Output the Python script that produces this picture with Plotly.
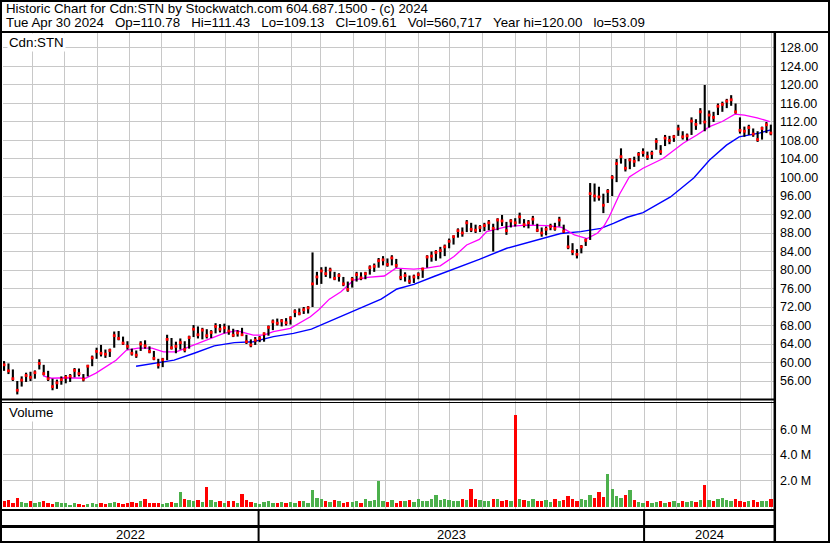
import pandas as pd
import plotly.graph_objects as go

W, H = 830, 543

# ---------------- header data ----------------
ticker = "Cdn:STN"
last_day = "Tue Apr 30 2024"
last_open, last_high, last_low, last_close = 110.78, 111.43, 109.13, 109.61
last_volume = 560717
year_high, year_low = 120.00, 53.09

# ---------------- price bars (every ~3 trading days) ----------------
bar_low = [
    58.2, 57.5, 56.0, 53.1, 54.8, 55.8, 56.0, 56.5,
    58.5, 57.2, 56.0, 54.0, 54.3, 55.2, 55.5,
    55.8, 56.8, 57.0, 55.9, 57.0, 59.2, 60.8,
    61.3, 61.0, 61.2, 63.2, 64.8, 63.8, 62.8,
    61.5, 61.0, 62.5, 63.0, 62.0, 60.5, 58.7,
    59.0, 60.5, 62.8, 62.0, 62.8, 62.2, 63.0,
    65.5, 65.2, 65.0, 65.2, 65.3, 66.3, 66.5,
    66.3, 66.0, 65.5, 65.6, 65.8, 64.0, 63.3,
    63.8, 64.4, 64.5, 65.8, 67.0, 68.0, 67.8, 68.0,
    68.2, 69.8, 70.2, 70.5, 70.6, 72.0, 76.8,
    77.0, 78.5, 78.2, 77.8, 77.5, 76.5, 75.3,
    76.2, 77.5, 77.8, 78.0, 79.0, 79.6, 80.5,
    81.0, 80.7, 81.0, 80.5, 77.8, 77.5, 77.0,
    77.2, 78.0, 78.3, 80.5, 81.8, 82.0, 82.5,
    83.0, 84.7, 85.5, 87.0, 87.2, 88.2, 88.2,
    88.0, 88.2, 88.4, 88.6, 84.0, 88.6, 89.5,
    87.6, 89.2, 89.4, 90.0, 89.2, 89.0, 89.8, 88.2,
    87.2, 87.5, 88.6, 88.5, 89.4, 88.0, 84.5,
    83.2, 82.5, 83.6, 85.2, 86.5, 94.8, 95.0,
    92.3, 94.5, 96.0, 99.0, 103.0, 101.3, 101.8,
    102.3, 103.5, 104.5, 103.8, 104.0, 106.0, 104.9,
    106.8, 107.2, 107.7, 109.0, 108.2, 108.0, 109.2,
    110.3, 111.5, 110.0, 110.8, 112.0, 113.5, 114.2,
    115.0, 115.5, 113.8, 109.5, 108.8, 109.2, 108.8, 107.7, 108.2, 109.6, 109.13,
]
bar_high = [
    60.3, 59.8, 58.5, 56.0, 57.0, 57.8, 58.0, 58.3,
    60.7, 59.5, 58.2, 56.5, 56.3, 57.0, 57.3,
    57.5, 58.8, 58.7, 57.5, 59.5, 61.5, 63.2,
    63.8, 62.8, 63.0, 66.7, 66.8, 65.6, 64.6,
    63.0, 62.6, 64.6, 64.8, 63.5, 62.5, 60.8,
    61.0, 66.0, 65.3, 64.5, 65.2, 64.6, 65.8,
    68.1, 67.8, 67.5, 67.2, 67.0, 68.5, 68.3,
    68.4, 68.0, 67.3, 67.0, 67.5, 66.0, 65.0,
    65.5, 65.7, 66.5, 68.0, 69.3, 69.5, 69.4, 69.6,
    70.0, 71.5, 71.7, 72.0, 72.2, 83.8, 79.6,
    80.6, 80.7, 80.5, 79.6, 79.3, 78.5, 77.5,
    78.5, 79.6, 79.5, 79.6, 81.0, 81.4, 82.6,
    83.0, 82.5, 83.2, 82.4, 80.2, 79.5, 78.8,
    79.0, 79.5, 80.5, 83.2, 84.0, 84.3, 85.0,
    85.5, 86.8, 87.5, 89.0, 89.2, 90.8, 90.2,
    89.8, 89.7, 90.2, 90.8, 90.0, 91.2, 91.9,
    90.4, 91.0, 91.2, 92.4, 91.0, 90.8, 91.7, 90.0,
    89.2, 89.4, 90.0, 90.2, 91.5, 89.8, 87.5,
    85.8, 84.5, 85.4, 86.8, 98.8, 98.7, 98.0,
    96.5, 97.5, 100.5, 104.0, 106.3, 104.0, 104.2,
    104.5, 105.5, 106.3, 105.6, 105.8, 108.5, 107.0,
    109.2, 109.0, 109.2, 111.4, 110.0, 109.5, 113.0,
    112.6, 115.0, 120.0, 114.5, 114.2, 116.0, 116.4,
    117.0, 117.8, 116.0, 113.0, 111.0, 111.4, 110.6, 110.0, 111.0, 112.0, 111.43,
]
bar_close = [
    59.5, 58.2, 56.5, 54.0, 56.2, 57.2, 56.8, 57.8,
    59.8, 57.6, 56.5, 54.8, 55.6, 56.3, 56.8,
    57.0, 58.3, 57.6, 56.4, 59.2, 61.0, 62.4,
    62.0, 61.8, 62.6, 65.8, 65.2, 64.2, 63.5,
    62.0, 61.6, 64.0, 63.6, 62.4, 60.9, 59.5,
    60.6, 65.0, 63.2, 63.5, 64.3, 62.8, 65.4,
    67.2, 66.0, 67.0, 65.8, 66.5, 67.8, 67.2,
    67.5, 66.8, 65.9, 66.4, 66.0, 64.5, 63.8,
    64.8, 65.2, 66.2, 67.6, 68.8, 68.5, 69.0, 68.6,
    69.6, 71.0, 70.6, 71.4, 71.8, 77.0, 78.5,
    79.8, 79.2, 80.0, 78.2, 78.8, 77.0, 75.8,
    78.0, 79.0, 78.3, 79.2, 80.5, 80.8, 82.0,
    82.2, 81.2, 82.6, 81.0, 78.4, 78.8, 77.6,
    78.5, 79.0, 80.2, 82.8, 83.0, 83.8, 84.2,
    85.0, 86.2, 87.2, 88.5, 88.0, 90.2, 88.8,
    88.6, 89.2, 89.6, 90.2, 89.0, 90.8, 90.6,
    88.5, 90.6, 90.2, 91.5, 89.8, 90.2, 91.0, 88.6,
    88.0, 88.8, 89.4, 89.0, 90.8, 88.4, 85.0,
    84.0, 83.4, 85.0, 86.4, 96.5, 96.0, 95.8,
    94.0, 97.0, 100.0, 103.0, 104.5, 102.0, 103.8,
    103.5, 105.0, 105.4, 104.5, 105.2, 107.8, 105.6,
    108.5, 108.0, 108.8, 110.5, 108.8, 109.0, 112.2,
    111.5, 114.2, 112.0, 113.5, 113.0, 115.4, 115.8,
    116.5, 116.8, 114.2, 110.2, 110.0, 110.8, 109.4, 108.2, 110.6, 111.4, 109.61,
]
volume_m = [
    0.45, 0.5, 0.3, 0.7, 0.35, 0.25, 0.4, 0.3,
    0.35, 0.45, 0.3, 0.2, 0.35, 0.25, 0.3,
    0.15, 0.3, 0.2, 0.15, 0.2, 0.25, 0.2,
    0.3, 0.2, 0.25, 0.35, 0.25, 0.2, 0.3,
    0.35, 0.25, 0.4, 0.55, 0.3, 0.25, 0.3,
    0.2, 0.25, 0.35, 0.3, 1.1, 0.6, 0.5,
    0.4, 0.5, 0.35, 1.5, 0.5, 0.35, 0.4,
    0.3, 0.45, 0.4, 0.3, 1.0, 0.5, 0.35,
    0.25, 0.2, 0.35, 0.4, 0.3, 0.25, 0.35, 0.3,
    0.35, 0.3, 0.4, 0.45, 0.3, 1.3, 0.7,
    0.55, 0.45, 0.35, 0.5, 0.4, 0.3, 0.35,
    0.35, 0.45, 0.3, 0.6, 0.4, 0.5, 2.0,
    0.4, 0.35, 0.5, 0.3, 0.45, 0.4, 0.5,
    0.35, 0.6, 0.45, 0.4, 0.55, 0.9, 0.5,
    0.6, 0.5, 0.45, 0.4, 0.55, 0.5, 1.35,
    0.6, 0.5, 0.4, 0.45, 0.55, 0.6, 0.4,
    0.5, 0.45, 7.1, 0.6, 0.5, 0.45, 0.55, 0.4,
    0.45, 0.5, 0.35, 0.6, 0.4, 0.5, 0.85,
    0.55, 0.45, 0.6, 0.5, 0.9, 0.7, 1.15,
    0.75, 2.55, 1.35, 0.8, 0.65, 0.9, 1.3,
    0.5, 0.35, 0.3, 0.4, 0.3, 0.35, 0.4,
    0.3, 0.35, 0.4, 0.3, 0.45, 0.35, 0.4,
    0.35, 0.5, 1.65, 0.5, 0.45, 0.6, 0.7,
    0.5, 0.4, 0.6, 0.45, 0.35, 0.4, 0.5, 0.35, 0.45, 0.4, 0.56,
]

# ---------------- moving averages ----------------
ma_fast_dates = [
    "2022-06-11", "2022-06-19", "2022-07-02", "2022-07-21", "2022-07-31", "2022-08-09",
    "2022-08-19", "2022-08-29", "2022-09-09", "2022-09-22", "2022-10-03", "2022-10-15",
    "2022-11-01", "2022-11-17", "2022-11-29", "2022-12-11", "2022-12-18", "2022-12-27",
    "2023-01-06", "2023-01-15", "2023-01-31", "2023-02-10", "2023-02-19", "2023-02-27",
    "2023-03-09", "2023-03-20", "2023-04-01", "2023-04-14", "2023-04-30", "2023-05-11",
    "2023-05-28", "2023-06-09", "2023-06-22", "2023-07-05", "2023-07-17", "2023-07-29",
    "2023-08-05", "2023-08-24", "2023-09-12", "2023-10-01", "2023-10-15", "2023-10-27",
    "2023-11-08", "2023-11-18", "2023-11-24", "2023-11-29", "2023-12-09", "2023-12-18",
    "2023-12-31", "2024-01-19", "2024-02-07", "2024-02-20", "2024-03-03", "2024-03-15",
    "2024-03-27", "2024-04-05", "2024-04-17", "2024-04-29",
]
ma_fast = [
    57.1, 56.6, 56.7, 56.6, 57.7, 59.1,
    60.5, 62.7, 63.1, 63.1, 62.3, 62.3,
    63.8, 65.2, 66.3, 66.9, 66.5, 65.9,
    65.9, 66.7, 67.4, 68.8, 69.9, 71.4,
    73.7, 75.3, 77.8, 78.4, 78.7, 80.4,
    80.2, 80.4, 80.9, 82.9, 85.4, 86.6,
    88.3, 89.4, 89.7, 89.6, 89.2, 87.6,
    86.8, 88.0, 89.5, 91.5, 96.5, 100.1,
    102.0, 104.1, 107.4, 109.2, 111.0, 112.1,
    113.7, 113.5, 112.9, 112.1,
]
ma_slow_dates = [
    "2022-09-07", "2022-09-22", "2022-10-03", "2022-10-13", "2022-11-01", "2022-11-20",
    "2022-12-09", "2022-12-27", "2023-01-15", "2023-02-03", "2023-02-20", "2023-03-13",
    "2023-04-03", "2023-04-27", "2023-05-12", "2023-05-28", "2023-06-16", "2023-07-05",
    "2023-07-29", "2023-08-24", "2023-09-25", "2023-10-14", "2023-11-02", "2023-11-21",
    "2023-12-03", "2023-12-16", "2023-12-31", "2024-01-26", "2024-02-17", "2024-03-03",
    "2024-03-19", "2024-03-31", "2024-04-19", "2024-04-30",
]
ma_slow = [
    59.2, 59.7, 60.1, 60.5, 62.0, 63.6,
    64.3, 64.5, 65.6, 66.3, 67.2, 69.3,
    71.4, 73.7, 75.9, 76.9, 78.6, 80.2,
    82.3, 84.7, 86.8, 87.9, 88.3, 89.0,
    90.1, 91.4, 92.4, 95.8, 99.9, 103.8,
    107.0, 108.8, 109.6, 110.3,
]

vol_tick_vals = [2, 4, 6]
vol_tick_text = ["2.0 M", "4.0 M", "6.0 M"]
years = [2022, 2023, 2024]

# ---------------- helpers ----------------
FONT = "Liberation Sans, Arial, sans-serif"
GRID = "#c8c8c8"
RED = "#ff0000"
GREEN = "#4cb04c"


def px(x):
    return x / W


def py(y):
    return 1 - y / H


n = len(bar_close)
dates = pd.date_range("2022-05-05", "2024-04-30", periods=n)
x_start, x_end = pd.Timestamp("2022-05-04"), pd.Timestamp("2024-05-03")

hl_x, hl_y = [], []
for d, lo, hi in zip(dates, bar_low, bar_high):
    hl_x += [d, d, None]
    hl_y += [lo, hi, None]

vol_colors = [RED] + [GREEN if c >= p else RED for p, c in zip(bar_close[:-1], bar_close[1:])]

fig = go.Figure()
fig.add_trace(go.Bar(x=dates, y=volume_m, marker=dict(color=vol_colors, line=dict(width=0)),
                     width=3.2 * 86400000, xaxis="x2", yaxis="y2", hoverinfo="skip"))
fig.add_trace(go.Scatter(x=pd.to_datetime(ma_slow_dates), y=ma_slow, mode="lines",
                         line=dict(color="#0000ff", width=1.4), xaxis="x", yaxis="y"))
fig.add_trace(go.Scatter(x=pd.to_datetime(ma_fast_dates), y=ma_fast, mode="lines",
                         line=dict(color="#ff00ff", width=1.3), xaxis="x", yaxis="y"))
fig.add_trace(go.Scatter(x=hl_x, y=hl_y, mode="lines", line=dict(color="black", width=2.1),
                         xaxis="x", yaxis="y", connectgaps=False))
fig.add_trace(go.Scatter(x=dates, y=bar_close, mode="markers",
                         marker=dict(symbol="square", size=2.8, color=RED, line=dict(width=0)),
                         xaxis="x", yaxis="y"))

xcommon = dict(type="date", range=[x_start, x_end], domain=[px(3), px(774)], showgrid=True,
               gridcolor=GRID, gridwidth=1, dtick="M1", tick0="2022-05-01",
               showticklabels=False, ticks="", showline=False, zeroline=False, fixedrange=True)

fig.update_layout(
    width=W, height=H, margin=dict(l=0, r=0, t=0, b=0), autosize=False,
    paper_bgcolor="white", plot_bgcolor="white", showlegend=False,
    font=dict(family=FONT, color="black", size=12),
    xaxis=dict(anchor="y", **xcommon),
    xaxis2=dict(anchor="y2", matches="x", **xcommon),
    yaxis=dict(domain=[py(399), py(33)], range=[52.11, 131.24], side="right", dtick=4, tick0=0,
               tickformat=".2f", showgrid=True, gridcolor=GRID, gridwidth=1, zeroline=False,
               ticks="", ticklabelstandoff=5, tickfont=dict(size=12.5, family=FONT, color="black"),
               anchor="x", fixedrange=True),
    yaxis2=dict(domain=[py(509), py(401)], range=[-0.19, 8.18], side="right",
                tickmode="array", tickvals=vol_tick_vals, ticktext=vol_tick_text,
                showgrid=True, gridcolor=GRID, gridwidth=1, zeroline=False, ticks="",
                ticklabelstandoff=5, tickfont=dict(size=12.5, family=FONT, color="black"),
                anchor="x2", fixedrange=True),
    bargap=0,
)

# ---------------- header text ----------------
sp = "\u00a0\u00a0\u00a0"
line1 = f"Historic Chart for {ticker} by Stockwatch.com 604.687.1500 - (c) 2024"
line2 = (f"{last_day}{sp}Op={last_open:.2f}{sp}Hi={last_high:.2f}{sp}Lo={last_low:.2f}{sp}"
         f"Cl={last_close:.2f}{sp}Vol={last_volume:,}{sp}Year hi={year_high:.2f}{sp}lo={year_low:.2f}")
ann = [
    dict(text=line1, x=px(4), y=py(8.5), xanchor="left", yanchor="middle"),
    dict(text=line2, x=px(4), y=py(22.5), xanchor="left", yanchor="middle"),
    dict(text=ticker, x=px(7), y=py(42.5), xanchor="left", yanchor="middle", bgcolor="white", borderpad=1),
    dict(text="Volume", x=px(7), y=py(413), xanchor="left", yanchor="middle", bgcolor="white", borderpad=1),
]
for a in ann:
    a.update(xref="paper", yref="paper", showarrow=False, font=dict(size=13.3, family=FONT, color="black"))

# year labels centered in the visible part of each year
for yr in years:
    s = max(x_start, pd.Timestamp(f"{yr}-01-01"))
    e = min(x_end, pd.Timestamp(f"{yr + 1}-01-01"))
    mid = s + (e - s) / 2
    ann.append(dict(text=str(yr), x=mid, y=py(534.5), xref="x", yref="paper", showarrow=False,
                    xanchor="center", yanchor="middle", font=dict(size=13, family=FONT, color="black")))
fig.update_layout(annotations=ann)

# ---------------- frame lines ----------------
shapes = []


def hline(y, x0=0, x1=W, w=2):
    shapes.append(dict(type="line", xref="paper", yref="paper", x0=px(x0), x1=px(x1),
                       y0=py(y), y1=py(y), line=dict(color="black", width=w)))


hline(32, 0, W, 2)
hline(399.5, 0, 775, 2)
hline(402.5, 0, 775, 1)
hline(510, 0, 775, 2)
hline(526.5, 0, 775, 3)
# right axis line
shapes.append(dict(type="line", xref="paper", yref="paper", x0=px(774.8), x1=px(774.8),
                   y0=py(32), y1=py(543), line=dict(color="black", width=2.5)))
# year separators
for yr in years[1:]:
    shapes.append(dict(type="line", xref="x", yref="paper", x0=f"{yr}-01-01", x1=f"{yr}-01-01",
                       y0=py(510), y1=py(543), line=dict(color="black", width=2)))
# outer border
shapes.append(dict(type="rect", xref="paper", yref="paper", x0=px(1), x1=px(829), y0=py(542), y1=py(1),
                   line=dict(color="black", width=2)))
fig.update_layout(shapes=shapes)

fig.write_html("out.html", config={"displayModeBar": False, "staticPlot": True},
               post_script="document.body.style.margin='0';document.body.style.overflow='hidden';")
